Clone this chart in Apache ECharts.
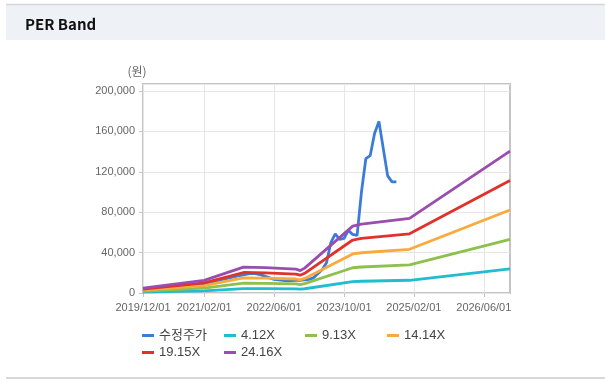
<!DOCTYPE html>
<html><head><meta charset="utf-8">
<script src="https://cdn.jsdelivr.net/npm/echarts@6/dist/echarts.min.js"></script>
<style>html,body{margin:0;padding:0;background:#fff}#c{width:605px;height:391px}</style>
</head><body><div id="c"></div>
<script>
// Monthly categories (x axis)
const categories = [
"2019/12/01",
"2020/01/01","2020/02/01","2020/03/01","2020/04/01","2020/05/01","2020/06/01","2020/07/01","2020/08/01","2020/09/01","2020/10/01","2020/11/01","2020/12/01",
"2021/01/01","2021/02/01","2021/03/01","2021/04/01","2021/05/01","2021/06/01","2021/07/01","2021/08/01","2021/09/01","2021/10/01","2021/11/01","2021/12/01",
"2022/01/01","2022/02/01","2022/03/01","2022/04/01","2022/05/01","2022/06/01","2022/07/01","2022/08/01","2022/09/01","2022/10/01","2022/11/01","2022/12/01",
"2023/01/01","2023/02/01","2023/03/01","2023/04/01","2023/05/01","2023/06/01","2023/07/01","2023/08/01","2023/09/01","2023/10/01","2023/11/01","2023/12/01",
"2024/01/01","2024/02/01","2024/03/01","2024/04/01","2024/05/01","2024/06/01","2024/07/01","2024/08/01","2024/09/01","2024/10/01","2024/11/01","2024/12/01",
"2025/01/01","2025/02/01","2025/03/01","2025/04/01","2025/05/01","2025/06/01","2025/07/01","2025/08/01","2025/09/01","2025/10/01","2025/11/01","2025/12/01",
"2026/01/01","2026/02/01","2026/03/01","2026/04/01","2026/05/01","2026/06/01","2026/07/01","2026/08/01","2026/09/01","2026/10/01","2026/11/01","2026/12/01"
];
// x tick labels shown
const tickLabels = ["2019/12/01","2021/02/01","2022/06/01","2023/10/01","2025/02/01","2026/06/01"];

// 수정주가 (monthly, from 2019/12/01)
const priceValues = [
3500,3400,3600,4000,4400,4700,5100,5600,6000,6600,7200,7600,8100,
8700,9300,10200,11100,12200,13300,14200,15300,16200,17100,18000,19000,
19500,19000,18000,16500,15000,13500,13000,12500,12000,12200,12600,12500,
13000,13500,15000,19000,23000,30000,50000,58500,53000,54000,62000,58000,
57000,100000,133000,136000,158000,170000,143000,116000,110000,110000
];

// PER band key dates
const bandDates = ["2019/12/01","2021/02/01","2021/11/01","2022/04/01","2022/11/01","2022/12/01","2023/01/01","2023/12/01","2024/02/01","2025/01/01","2026/12/01"];
const band412  = [820, 2140, 4370, 4280, 4040, 3790, 4200, 11290, 11620, 12610, 23960];
const band913  = [1830, 4750, 9680, 9500, 8950, 8400, 9310, 25020, 25750, 27940, 53090];
const band1414 = [2830, 7350, 14990, 14710, 13860, 13010, 14420, 38740, 39870, 43270, 82220];
const band1915 = [3830, 9960, 20300, 19920, 18770, 17620, 19530, 52470, 54000, 58600, 111360];
const band2416 = [4830, 12560, 25610, 25130, 23680, 22230, 24640, 66200, 68130, 73930, 140490];

const seriesNames = ["수정주가","4.12X","9.13X","14.14X","19.15X","24.16X"];
const seriesColors = ["#3a7cd8","#20bccf","#8dc04e","#f9aa3a","#e0322b","#9a4dae"];
const yTicks = [0, 40000, 80000, 120000, 160000, 200000];

const chart = echarts.init(document.getElementById('c'), null, {renderer:'canvas'});
const showIdx = (i) => tickLabels.indexOf(categories[i]) >= 0;
const pair = (vals) => bandDates.map((d,k)=>[d, vals[k]]);
const bandSets = [band412, band913, band1414, band1915, band2416];

const legendPos = [[142,329],[224,329],[305,329],[387,329],[142,346],[224,346]];
const legends = seriesNames.map((n,k)=>({
  data:[{name:n, icon:'rect'}],
  left: legendPos[k][0], top: legendPos[k][1],
  padding:0, itemWidth:12, itemHeight:3,
  textStyle:{color:'#444', fontSize:13, fontFamily:"'Liberation Sans','Noto Sans CJK KR',sans-serif"}
}));

const series = [{
  name: seriesNames[0], type:'line', data: priceValues, symbol:'none',
  lineStyle:{width:2.8, color:seriesColors[0]}, itemStyle:{color:seriesColors[0]}
}].concat(bandSets.map((b,k)=>({
  name: seriesNames[k+1], type:'line', data: pair(b), symbol:'none',
  lineStyle:{width:2.8, color:seriesColors[k+1]}, itemStyle:{color:seriesColors[k+1]}
})));

chart.setOption({
  animation:false,
  backgroundColor:'#ffffff',
  title:{text:'PER Band', left:20, top:12, textStyle:{fontSize:15, fontWeight:'bold', color:'#111', fontFamily:"'Noto Sans CJK KR',sans-serif"}},
  graphic:[
    {type:'rect', left:6, top:4, z:-10, shape:{width:599, height:36}, style:{fill:'#eef2f7'}},
    {type:'line', z:-9, shape:{x1:6, y1:4.5, x2:605, y2:4.5}, style:{stroke:'#d3d6da', lineWidth:1.5}},
    {type:'line', z:-9, shape:{x1:6, y1:378, x2:605, y2:378}, style:{stroke:'#d8d8d8', lineWidth:2}}
  ],
  legend: legends,
  grid:{left:143, right:95, top:84, bottom:98, show:true, borderColor:'#c4c4c4', borderWidth:2, backgroundColor:'transparent'},
  xAxis:{
    type:'category', data:categories, boundaryGap:false,
    axisLine:{show:false},
    axisTick:{show:true, interval:(i)=>showIdx(i), length:4, lineStyle:{color:'#c4c4c4'}},
    axisLabel:{interval:(i)=>showIdx(i), color:'#666', fontSize:11, margin:9, fontFamily:"'Liberation Sans',sans-serif"},
    splitLine:{show:true, interval:(i)=>showIdx(i), lineStyle:{color:'#e6e6e6'}}
  },
  yAxis:{
    type:'value', min:yTicks[0], max:207000, interval:40000,
    name:'(원)', nameLocation:'end', nameGap:7,
    nameTextStyle:{color:'#666', fontSize:12, padding:[0,12,0,0], fontFamily:"'Noto Sans CJK KR',sans-serif"},
    axisLine:{show:false},
    axisTick:{show:true, length:4, lineStyle:{color:'#c4c4c4'}},
    axisLabel:{color:'#666', fontSize:11, margin:8, showMaxLabel:false, fontFamily:"'Liberation Sans',sans-serif"},
    splitLine:{lineStyle:{color:'#e6e6e6'}}
  },
  series: series
});
</script></body></html>
